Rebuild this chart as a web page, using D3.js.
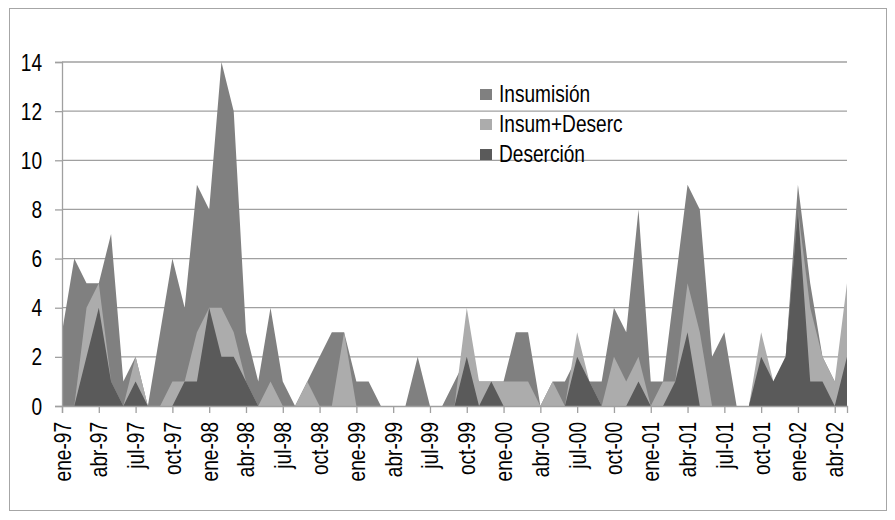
<!DOCTYPE html>
<html lang="es">
<head>
  <meta charset="UTF-8">
  <title>Insumisión y deserción</title>
  <style>
    body { margin: 0; background: #fff; }
    text { font-family: "Liberation Sans", Arial, sans-serif; fill: #000; }
  </style>
</head>
<body>
<svg id="chart"></svg>
<script src="https://cdn.jsdelivr.net/npm/d3@7/dist/d3.min.js"></script>
<script>
const width = 895;
const height = 520;

// meses ene-97 .. may-02
const monthNames = ['ene', 'feb', 'mar', 'abr', 'may', 'jun', 'jul', 'ago', 'sep', 'oct', 'nov', 'dic'];
const years = ['97', '98', '99', '00', '01', '02'];
const months = [];
years.forEach(yy => monthNames.forEach(m => months.push(m + '-' + yy)));
months.splice(65);

const insumision = [3, 6, 5, 5, 7, 1, 2, 0, 3, 6, 4, 9, 8, 14, 12, 3, 1, 4, 1, 0,
  1, 2, 3, 3, 1, 1, 0, 0, 0, 2, 0, 0, 1, 2, 1, 1, 1, 3, 3, 0,
  1, 1, 2, 1, 1, 4, 3, 8, 1, 1, 5, 9, 8, 2, 3, 0, 0, 2, 1, 2,
  9, 5, 2, 1, 1];
const insumDeserc = [0, 0, 4, 5, 1, 0, 2, 0, 0, 1, 1, 3, 4, 4, 3, 1, 0, 1, 0, 0,
  1, 0, 0, 3, 0, 0, 0, 0, 0, 0, 0, 0, 0, 4, 1, 1, 1, 1, 1, 0,
  1, 0, 3, 1, 0, 2, 1, 2, 0, 1, 1, 5, 3, 0, 0, 0, 0, 3, 1, 2,
  8, 4, 2, 1, 5];
const desercion = [0, 0, 2, 4, 1, 0, 1, 0, 0, 0, 1, 1, 4, 2, 2, 1, 0, 0, 0, 0,
  0, 0, 0, 0, 0, 0, 0, 0, 0, 0, 0, 0, 0, 2, 0, 1, 0, 0, 0, 0,
  0, 0, 2, 1, 0, 0, 0, 1, 0, 0, 1, 3, 0, 0, 0, 0, 0, 2, 1, 2,
  8, 1, 1, 0, 2];

const yTicks = [0, 2, 4, 6, 8, 10, 12, 14];
const seriesNames = ['Insumisión', 'Insum+Deserc', 'Deserción'];
const seriesColors = ['#808080', '#acacac', '#5a5a5a'];
const seriesData = [insumision, insumDeserc, desercion];

const margin = {left: 62, right: 48, top: 62, bottom: 114};

const svg = d3.select('#chart')
  .attr('width', width)
  .attr('height', height);

// marco exterior
svg.append('rect')
  .attr('x', 9.5).attr('y', 8.5)
  .attr('width', 877).attr('height', 502)
  .attr('fill', 'none')
  .attr('stroke', '#a6a6a6')
  .attr('stroke-width', 1);

const x = d3.scalePoint()
  .domain(months)
  .range([margin.left, width - margin.right]);

const y = d3.scaleLinear()
  .domain([0, 14])
  .range([height - margin.bottom, margin.top]);

// rejilla
svg.append('g')
  .selectAll('line')
  .data(yTicks.filter(d => d > 0))
  .enter()
  .append('line')
  .attr('x1', margin.left)
  .attr('x2', width - margin.right)
  .attr('y1', d => y(d))
  .attr('y2', d => y(d))
  .attr('stroke', '#a0a0a0')
  .attr('stroke-width', 1.3);

// áreas superpuestas
const area = d3.area()
  .x((d, i) => x(months[i]))
  .y0(y(0))
  .y1(d => y(d));

svg.append('g')
  .selectAll('path')
  .data(seriesData)
  .enter()
  .append('path')
  .attr('d', d => area(d))
  .attr('fill', (d, i) => seriesColors[i]);

// eje Y
const yAxis = svg.append('g')
  .attr('transform', `translate(${margin.left},0)`)
  .call(d3.axisLeft(y).tickValues(yTicks).tickSize(7).tickPadding(0).tickFormat(d3.format('d')));
yAxis.select('.domain').attr('stroke', '#a0a0a0').attr('stroke-width', 1.3);
yAxis.selectAll('.tick line').attr('stroke', '#a0a0a0').attr('stroke-width', 1.3);
yAxis.selectAll('.tick text')
  .attr('x', null).attr('dy', null)
  .attr('font-size', 23)
  .attr('text-anchor', 'end')
  .attr('transform', 'translate(-20,8) scale(0.83,1)');

// eje X
const xTickVals = months.filter((m, i) => i % 3 === 0);
const xAxis = svg.append('g')
  .attr('transform', `translate(0,${y(0)})`)
  .call(d3.axisBottom(x).tickValues(xTickVals).tickSize(7).tickPadding(0));
xAxis.select('.domain').attr('stroke', '#a0a0a0').attr('stroke-width', 1.3);
xAxis.selectAll('.tick line').attr('stroke', '#a0a0a0').attr('stroke-width', 1.3);
xAxis.selectAll('.tick text')
  .attr('y', null).attr('dy', null)
  .attr('font-size', 23)
  .attr('text-anchor', 'end')
  .attr('transform', 'translate(8,16) rotate(-90) scale(0.83,1)');

// leyenda
const legend = svg.append('g')
  .attr('transform', 'translate(480,89)');
const items = legend.selectAll('g')
  .data(seriesNames)
  .enter()
  .append('g')
  .attr('transform', (d, i) => `translate(0,${i * 30})`);
items.append('rect')
  .attr('width', 12).attr('height', 11)
  .attr('fill', (d, i) => seriesColors[i]);
items.append('text')
  .attr('font-size', 23)
  .attr('transform', 'translate(19,12.5) scale(0.83,1)')
  .text(d => d);
</script>
</body>
</html>
